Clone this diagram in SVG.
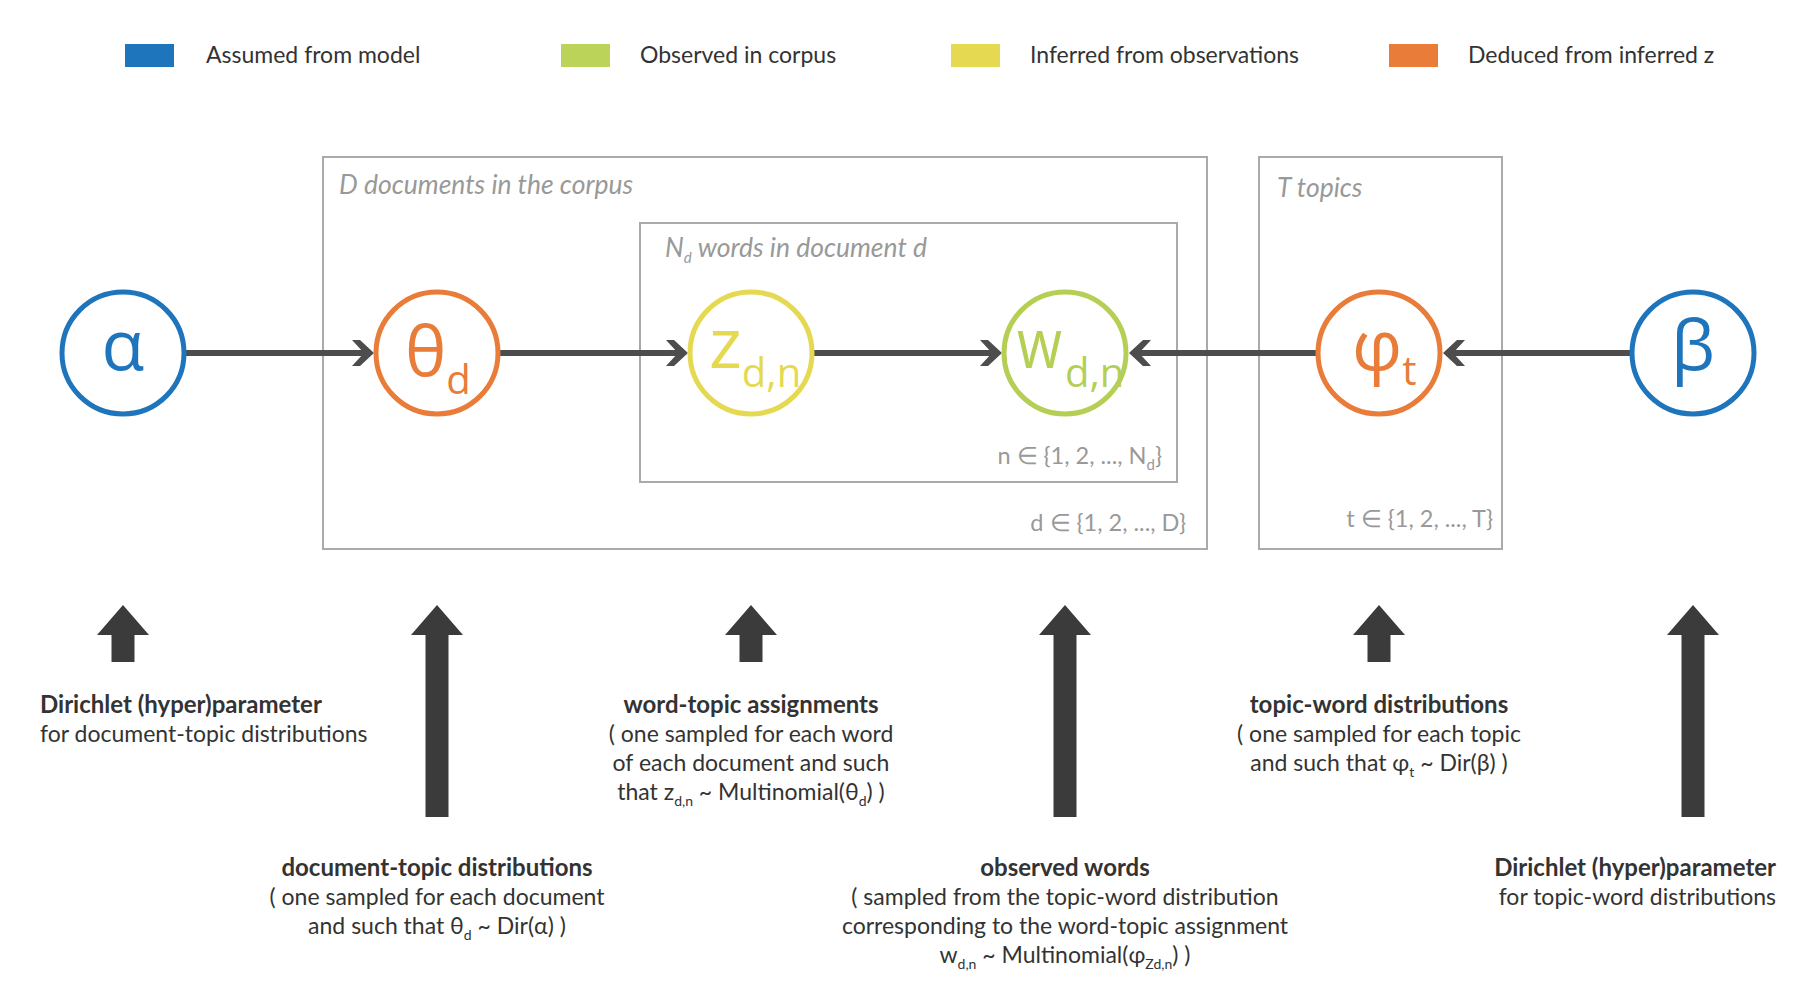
<svg xmlns="http://www.w3.org/2000/svg" width="1815" height="1008" viewBox="0 0 1815 1008">
<defs>
<style>
.lg{font-family:Lato,"Open Sans",sans-serif;font-size:23px;fill:#333}
.pl{fill:none;stroke:#aaa;stroke-width:2}
.pt{font-family:Lato,"Open Sans",sans-serif;font-size:26.5px;font-style:italic;fill:#999}
.pr{font-family:Lato,"Open Sans",sans-serif;font-size:23.5px;fill:#999;text-anchor:end}
.nd{fill:#fff;stroke-width:5}
.nt{font-family:"Open Sans",Lato,sans-serif;font-size:70px}
.ns{font-size:40px}
.cn{stroke:#4d4d4d;stroke-width:6;fill:none}
.ba{fill:#3b3b3b}
.tx{font-family:Lato,"Open Sans",sans-serif;font-size:23px;fill:#333}
.b{font-weight:bold;font-size:24px}
.sb{font-size:14px}
</style>
<marker id="arr" viewBox="0 0 22 26" refX="18" refY="13" markerWidth="22" markerHeight="26" markerUnits="userSpaceOnUse" orient="auto">
<path d="M0,0 L8,0 L22,13 L8,26 L0,26 L12,13 Z" fill="#4d4d4d"/>
</marker>
</defs>
<rect width="1815" height="1008" fill="#fff"/>

<g id="legend">
<rect x="125" y="44" width="49" height="23" fill="#1f75bb"/>
<text class="lg" x="206" y="63">Assumed from model</text>
<rect x="561" y="44" width="49" height="23" fill="#bcd35a"/>
<text class="lg" x="640" y="63">Observed in corpus</text>
<rect x="951" y="44" width="49" height="23" fill="#e6d952"/>
<text class="lg" x="1030" y="63">Inferred from observations</text>
<rect x="1389" y="44" width="49" height="23" fill="#e87c38"/>
<text class="lg" x="1468" y="63">Deduced from inferred z</text>
</g>

<g id="plate-D">
<rect class="pl" x="323" y="157" width="884" height="392"/>
<text class="pt" x="339" y="194">D documents in the corpus</text>
<text class="pr" x="1186" y="531">d ∈ {1, 2, ..., D}</text>
</g>
<g id="plate-N">
<rect class="pl" x="640" y="223" width="537" height="259"/>
<text class="pt" x="665" y="257">N<tspan font-size="15" dy="6">d</tspan><tspan dy="-6"> words in document d</tspan></text>
<text class="pr" x="1162" y="464">n ∈ {1, 2, ..., N<tspan font-size="15" dy="6">d</tspan><tspan dy="-6">}</tspan></text>
</g>
<g id="plate-T">
<rect class="pl" x="1259" y="157" width="243" height="392"/>
<text class="pt" x="1277" y="197">T topics</text>
<text class="pr" x="1493" y="527">t ∈ {1, 2, ..., T}</text>
</g>

<g id="connectors">
<line class="cn" x1="186" y1="353" x2="370" y2="353" marker-end="url(#arr)"/>
<line class="cn" x1="499" y1="353" x2="684" y2="353" marker-end="url(#arr)"/>
<line class="cn" x1="813" y1="353" x2="998" y2="353" marker-end="url(#arr)"/>
<line class="cn" x1="1317" y1="353" x2="1133" y2="353" marker-end="url(#arr)"/>
<line class="cn" x1="1631" y1="353" x2="1447" y2="353" marker-end="url(#arr)"/>
</g>

<g id="node-alpha">
<circle class="nd" cx="123" cy="353" r="61" stroke="#1f75bb"/>
<text class="nt" x="123" y="370" fill="#1f75bb" text-anchor="middle">α</text>
</g>
<g id="node-theta">
<circle class="nd" cx="437" cy="353" r="61" stroke="#e87c38"/>
<text class="nt" x="405" y="376" fill="#e87c38">θ<tspan class="ns" dy="18">d</tspan></text>
</g>
<g id="node-z">
<circle class="nd" cx="751" cy="353" r="61" stroke="#e6d952"/>
<text class="nt" x="709" y="368" fill="#e6d952">z<tspan class="ns" dy="19">d,n</tspan></text>
</g>
<g id="node-w">
<circle class="nd" cx="1065" cy="353" r="61" stroke="#b5cf55"/>
<text class="nt" x="1017" y="368" fill="#b5cf55" font-size="62" textLength="45" lengthAdjust="spacingAndGlyphs">w</text>
<text class="nt ns" x="1065" y="387" fill="#b5cf55" font-size="36">d,n</text>
</g>
<g id="node-phi">
<circle class="nd" cx="1379" cy="353" r="61" stroke="#e87c38"/>
<text class="nt" x="1352" y="370" fill="#e87c38">φ<tspan class="ns" dy="15">t</tspan></text>
</g>
<g id="node-beta">
<circle class="nd" cx="1693" cy="353" r="61" stroke="#1f75bb"/>
<text class="nt" x="1693" y="370" fill="#1f75bb" text-anchor="middle">β</text>
</g>

<g id="pointers">
<polygon class="ba" points="123,605 149,635 134.5,635 134.5,662 111.5,662 111.5,635 97,635"/>
<polygon class="ba" points="437,605 463,635 448.5,635 448.5,817 425.5,817 425.5,635 411,635"/>
<polygon class="ba" points="751,605 777,635 762.5,635 762.5,662 739.5,662 739.5,635 725,635"/>
<polygon class="ba" points="1065,605 1091,635 1076.5,635 1076.5,817 1053.5,817 1053.5,635 1039,635"/>
<polygon class="ba" points="1379,605 1405,635 1390.5,635 1390.5,662 1367.5,662 1367.5,635 1353,635"/>
<polygon class="ba" points="1693,605 1719,635 1704.5,635 1704.5,817 1681.5,817 1681.5,635 1667,635"/>
</g>

<g id="desc-alpha">
<text class="tx b" x="40" y="713">Dirichlet (hyper)parameter</text>
<text class="tx" x="40" y="742">for document-topic distributions</text>
</g>
<g id="desc-z" text-anchor="middle">
<text class="tx b" x="751" y="713">word-topic assignments</text>
<text class="tx" x="751" y="742">( one sampled for each word</text>
<text class="tx" x="751" y="771">of each document and such</text>
<text class="tx" x="751" y="800">that z<tspan class="sb" dy="6">d,n</tspan><tspan dy="-6"> ~ Multinomial(θ</tspan><tspan class="sb" dy="6">d</tspan><tspan dy="-6">) )</tspan></text>
</g>
<g id="desc-phi" text-anchor="middle">
<text class="tx b" x="1379" y="713">topic-word distributions</text>
<text class="tx" x="1379" y="742">( one sampled for each topic</text>
<text class="tx" x="1379" y="771">and such that φ<tspan class="sb" dy="6">t</tspan><tspan dy="-6"> ~ Dir(β) )</tspan></text>
</g>
<g id="desc-theta" text-anchor="middle">
<text class="tx b" x="437" y="876">document-topic distributions</text>
<text class="tx" x="437" y="905">( one sampled for each document</text>
<text class="tx" x="437" y="934">and such that θ<tspan class="sb" dy="6">d</tspan><tspan dy="-6"> ~ Dir(α) )</tspan></text>
</g>
<g id="desc-w" text-anchor="middle">
<text class="tx b" x="1065" y="876">observed words</text>
<text class="tx" x="1065" y="905">( sampled from the topic-word distribution</text>
<text class="tx" x="1065" y="934">corresponding to the word-topic assignment</text>
<text class="tx" x="1065" y="963">w<tspan class="sb" dy="6">d,n</tspan><tspan dy="-6"> ~ Multinomial(φ</tspan><tspan class="sb" dy="6">Zd,n</tspan><tspan dy="-6">) )</tspan></text>
</g>
<g id="desc-beta" text-anchor="end">
<text class="tx b" x="1776" y="876">Dirichlet (hyper)parameter</text>
<text class="tx" x="1776" y="905">for topic-word distributions</text>
</g>
</svg>
